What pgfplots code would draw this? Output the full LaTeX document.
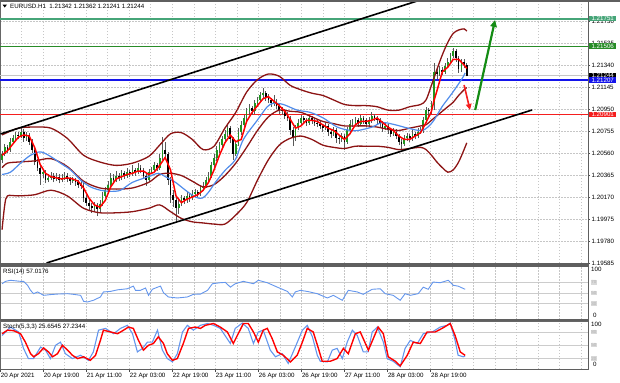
\documentclass[border=0pt]{standalone}
\usepackage{pgfplots}
\pgfplotsset{compat=1.18}
\usepackage{pgfplotstable}
\usepackage{fontspec}
\setmainfont{Liberation Sans}
\usetikzlibrary{arrows.meta}
\definecolor{upgreen}{RGB}{30,150,30}
\definecolor{bandred}{RGB}{140,20,20}
\definecolor{maBlue}{RGB}{80,140,235}
\definecolor{rsiBlue}{RGB}{100,150,237}
\definecolor{lvlTeal}{RGB}{70,165,120}
\definecolor{lvlGreen}{RGB}{40,140,40}
\definecolor{sepgray}{RGB}{95,95,95}
\definecolor{lvlBlue}{RGB}{20,20,235}
\definecolor{lvlRed}{RGB}{245,30,30}
\definecolor{arrGreen}{RGB}{20,140,20}
\newcommand{\sz}{\fontsize{6.2bp}{7bp}\selectfont}
\newcommand{\szs}{\fontsize{4.5bp}{5bp}\selectfont}

\pgfplotstableread{
i o h l c
0 1.2050 1.2058 1.2047 1.2055
1 1.2055 1.2064 1.2053 1.2061
2 1.2061 1.2063 1.2056 1.2059
3 1.2059 1.2069 1.2057 1.2066
4 1.2066 1.2072 1.2064 1.2069
5 1.2069 1.2075 1.2067 1.2072
6 1.2072 1.2075 1.2068 1.2071
7 1.2071 1.2079 1.2069 1.2075
8 1.2075 1.2077 1.2066 1.2069
9 1.2069 1.2075 1.2067 1.2072
10 1.2072 1.2074 1.2063 1.2066
11 1.2066 1.2068 1.2056 1.2059
12 1.2059 1.2061 1.2045 1.2048
13 1.2048 1.2051 1.2040 1.2043
14 1.2043 1.2046 1.2028 1.2037
15 1.2037 1.2042 1.2034 1.2039
16 1.2039 1.2041 1.2029 1.2032
17 1.2032 1.2037 1.2030 1.2034
18 1.2034 1.2039 1.2032 1.2036
19 1.2036 1.2038 1.2030 1.2033
20 1.2033 1.2038 1.2031 1.2035
21 1.2035 1.2037 1.2029 1.2032
22 1.2032 1.2037 1.2030 1.2034
23 1.2034 1.2039 1.2032 1.2036
24 1.2036 1.2038 1.2030 1.2033
25 1.2033 1.2035 1.2028 1.2031
26 1.2031 1.2035 1.2029 1.2032
27 1.2032 1.2034 1.2027 1.2030
28 1.2030 1.2032 1.2025 1.2028
29 1.2028 1.2031 1.2024 1.2027
30 1.2027 1.2029 1.2013 1.2016
31 1.2016 1.2019 1.2009 1.2012
32 1.2012 1.2015 1.2005 1.2009
33 1.2009 1.2012 1.2003 1.2007
34 1.2007 1.2013 1.2005 1.2010
35 1.2010 1.2012 1.2000 1.2006
36 1.2006 1.2014 1.2004 1.2011
37 1.2011 1.2021 1.2009 1.2018
38 1.2018 1.2026 1.2016 1.2023
39 1.2023 1.2031 1.2021 1.2028
40 1.2028 1.2038 1.2026 1.2034
41 1.2034 1.2037 1.2029 1.2032
42 1.2032 1.2040 1.2030 1.2036
43 1.2036 1.2038 1.2031 1.2034
44 1.2034 1.2041 1.2032 1.2038
45 1.2038 1.2040 1.2033 1.2036
46 1.2036 1.2043 1.2034 1.2039
47 1.2039 1.2041 1.2035 1.2038
48 1.2038 1.2045 1.2036 1.2041
49 1.2041 1.2043 1.2036 1.2039
50 1.2039 1.2047 1.2037 1.2043
51 1.2043 1.2045 1.2038 1.2041
52 1.2041 1.2043 1.2033 1.2036
53 1.2036 1.2038 1.2027 1.2032
54 1.2032 1.2042 1.2030 1.2039
55 1.2039 1.2044 1.2037 1.2041
56 1.2041 1.2048 1.2039 1.2045
57 1.2045 1.2047 1.2040 1.2043
58 1.2043 1.2055 1.2041 1.2052
59 1.2052 1.2070 1.2050 1.2059
60 1.2059 1.2066 1.2051 1.2055
61 1.2055 1.2057 1.2028 1.2032
62 1.2032 1.2035 1.2012 1.2019
63 1.2019 1.2023 1.2008 1.2014
64 1.2014 1.2017 1.1994 1.2007
65 1.2007 1.2014 1.2002 1.2011
66 1.2011 1.2019 1.2009 1.2016
67 1.2016 1.2018 1.2011 1.2014
68 1.2014 1.2021 1.2012 1.2018
69 1.2018 1.2020 1.2013 1.2016
70 1.2016 1.2023 1.2014 1.2020
71 1.2020 1.2024 1.2017 1.2021
72 1.2021 1.2023 1.2017 1.2020
73 1.2020 1.2028 1.2018 1.2025
74 1.2025 1.2030 1.2022 1.2027
75 1.2027 1.2035 1.2025 1.2032
76 1.2032 1.2039 1.2030 1.2036
77 1.2036 1.2048 1.2034 1.2045
78 1.2045 1.2055 1.2043 1.2052
79 1.2052 1.2062 1.2049 1.2059
80 1.2059 1.2066 1.2056 1.2063
81 1.2063 1.2071 1.2060 1.2068
82 1.2068 1.2076 1.2065 1.2073
83 1.2073 1.2082 1.2070 1.2078
84 1.2078 1.2080 1.2065 1.2068
85 1.2068 1.2070 1.2050 1.2055
86 1.2055 1.2067 1.2053 1.2064
87 1.2064 1.2078 1.2062 1.2075
88 1.2075 1.2084 1.2072 1.2081
89 1.2081 1.2090 1.2078 1.2087
90 1.2087 1.2096 1.2084 1.2093
91 1.2093 1.2099 1.2090 1.2096
92 1.2096 1.2098 1.2090 1.2093
93 1.2093 1.2103 1.2091 1.2100
94 1.2100 1.2106 1.2097 1.2103
95 1.2103 1.2110 1.2101 1.2107
96 1.2107 1.2114 1.2105 1.2109
97 1.2109 1.2111 1.2102 1.2105
98 1.2105 1.2108 1.2100 1.2103
99 1.2103 1.2105 1.2097 1.2100
100 1.2100 1.2107 1.2098 1.2101
101 1.2101 1.2104 1.2095 1.2098
102 1.2098 1.2100 1.2091 1.2094
103 1.2094 1.2097 1.2090 1.2093
104 1.2093 1.2095 1.2086 1.2089
105 1.2089 1.2092 1.2084 1.2087
106 1.2087 1.2089 1.2072 1.2076
107 1.2076 1.2079 1.2062 1.2069
108 1.2069 1.2081 1.2067 1.2078
109 1.2078 1.2086 1.2076 1.2083
110 1.2083 1.2090 1.2081 1.2087
111 1.2087 1.2089 1.2082 1.2085
112 1.2085 1.2087 1.2080 1.2083
113 1.2083 1.2090 1.2081 1.2087
114 1.2087 1.2089 1.2082 1.2085
115 1.2085 1.2087 1.2080 1.2083
116 1.2083 1.2086 1.2079 1.2082
117 1.2082 1.2084 1.2077 1.2080
118 1.2080 1.2082 1.2075 1.2078
119 1.2078 1.2083 1.2076 1.2080
120 1.2080 1.2082 1.2071 1.2075
121 1.2075 1.2077 1.2069 1.2073
122 1.2073 1.2079 1.2071 1.2076
123 1.2076 1.2078 1.2065 1.2069
124 1.2069 1.2072 1.2064 1.2068
125 1.2068 1.2074 1.2066 1.2071
126 1.2071 1.2073 1.2059 1.2066
127 1.2066 1.2079 1.2064 1.2076
128 1.2076 1.2085 1.2074 1.2082
129 1.2082 1.2086 1.2079 1.2083
130 1.2083 1.2088 1.2081 1.2085
131 1.2085 1.2087 1.2079 1.2082
132 1.2082 1.2090 1.2080 1.2087
133 1.2087 1.2089 1.2082 1.2085
134 1.2085 1.2087 1.2079 1.2082
135 1.2082 1.2088 1.2080 1.2085
136 1.2085 1.2092 1.2083 1.2089
137 1.2089 1.2091 1.2084 1.2087
138 1.2087 1.2089 1.2082 1.2085
139 1.2085 1.2087 1.2079 1.2082
140 1.2082 1.2084 1.2075 1.2078
141 1.2078 1.2083 1.2076 1.2080
142 1.2080 1.2082 1.2073 1.2076
143 1.2076 1.2078 1.2070 1.2073
144 1.2073 1.2078 1.2071 1.2075
145 1.2075 1.2077 1.2068 1.2071
146 1.2071 1.2073 1.2063 1.2066
147 1.2066 1.2068 1.2059 1.2064
148 1.2064 1.2072 1.2062 1.2069
149 1.2069 1.2074 1.2067 1.2071
150 1.2071 1.2073 1.2066 1.2069
151 1.2069 1.2076 1.2067 1.2073
152 1.2073 1.2075 1.2068 1.2071
153 1.2071 1.2078 1.2069 1.2075
154 1.2075 1.2079 1.2073 1.2076
155 1.2076 1.2088 1.2074 1.2085
156 1.2085 1.2097 1.2083 1.2094
157 1.2094 1.2096 1.2089 1.2093
158 1.2093 1.2102 1.2091 1.2099
159 1.2099 1.2136 1.2094 1.2128
160 1.2128 1.2131 1.2122 1.2126
161 1.2126 1.2133 1.2124 1.2130
162 1.2130 1.2132 1.2125 1.2128
163 1.2128 1.2136 1.2126 1.2133
164 1.2133 1.2140 1.2131 1.2137
165 1.2137 1.2145 1.2135 1.2142
166 1.2142 1.2149 1.2140 1.2146
167 1.2146 1.2148 1.2137 1.2140
168 1.2140 1.2142 1.2127 1.2130
169 1.2130 1.2139 1.2128 1.2137
170 1.2137 1.2139 1.2131 1.2134
171 1.2134 1.2136 1.2124 1.2124
}\candles
\pgfplotstablecreatecol[expr={\thisrow{h}-\thisrow{l}}]{hl}\candles
\pgfplotstablecreatecol[expr={max(\thisrow{c}-\thisrow{o},0)}]{vu}\candles
\pgfplotstablecreatecol[expr={min(\thisrow{c}-\thisrow{o},0)}]{vd}\candles

\pgfplotsset{
  mt/.style={
    scale only axis, width=588bp, xmin=-0.75, xmax=215.6,
    axis line style={black!60, line width=0.6bp},
    tick label style={font=\sz},
    xtick={-0.7,15.13,30.96,46.79,62.62,78.45,94.28,110.11,125.94,141.77,157.60},
    extra x ticks={7.22,23.05,38.88,54.71,70.54,86.37,102.20,118.03,133.86,149.69,165.52,173.43,181.35,189.26,197.18,205.09,213.01},
    extra x tick labels={},
    extra x tick style={major tick length=0pt, grid=major},
    xmajorgrids,
    x grid style={gray!45, dash pattern=on 1.5bp off 1.5bp, line width=0.5bp},
  }
}

\begin{document}
\begin{tikzpicture}[x=1bp,y=1bp,font=\sz]
\useasboundingbox (0bp,0bp) rectangle (620bp,-383bp);

% ---------------- main price panel
\begin{axis}[mt, at={(0bp,0bp)}, anchor=north west, height=263bp,
  ymin=1.19585, ymax=1.21916, clip=false,
  xticklabels={}, xtick style={draw=none},
  ytick={1.19585,1.19780,1.19975,1.20170,1.20365,1.20560,1.20755,1.20950,1.21145,1.21340,1.21535,1.21730},
  ymajorgrids, y grid style={gray!45, dash pattern=on 1.5bp off 1.5bp, line width=0.5bp},
  ytick pos=right, yticklabel pos=right, tick align=outside, major tick length=2bp,
  ytick style={black!70, line width=0.5bp},
  yticklabel style={/pgf/number format/fixed, /pgf/number format/fixed zerofill, /pgf/number format/precision=5, /pgf/number format/assume math mode=true, inner sep=1.5bp}]

% level lines
\addplot[lvlTeal, line width=1.8bp] coordinates {(-0.75,1.21751) (215.6,1.21751)};
\addplot[lvlGreen, line width=1.3bp] coordinates {(-0.75,1.21506) (215.6,1.21506)};
\addplot[gray!45, line width=0.9bp] coordinates {(-0.75,1.21244) (215.6,1.21244)};
\addplot[lvlBlue, line width=1.4bp] coordinates {(-0.75,1.21207) (215.6,1.21207)};
\addplot[lvlRed, line width=1.4bp] coordinates {(-0.75,1.20901) (215.6,1.20901)};

% candles: wicks and bodies
\addplot[black!65, line width=0.6bp, quiver={u=0, v=\thisrow{hl}}] table[x=i, y=l] {\candles};
\addplot[upgreen, line width=1.7bp, quiver={u=0, v=\thisrow{vu}}] table[x=i, y=o] {\candles};
\addplot[black, line width=1.7bp, quiver={u=0, v=\thisrow{vd}}] table[x=i, y=o] {\candles};

% Bollinger bands
\addplot[bandred, line width=1.3bp, smooth] coordinates {
(0,1.2072) (6,1.2078) (12,1.2079) (18,1.2078) (24,1.2069) (30,1.2054) (36,1.2048) (42,1.2045) (48,1.2047) (54,1.2053) (58,1.2063) (62,1.2073) (66,1.2074) (70,1.2068) (74,1.2059) (78,1.2062) (82,1.2078) (86,1.2092) (90,1.2110) (94,1.2121) (98,1.2126) (102,1.2124) (106,1.2116) (110,1.2112) (114,1.2109) (118,1.2107) (122,1.2103) (126,1.2099) (130,1.2098) (134,1.2098) (138,1.2097) (142,1.2094) (146,1.2094) (150,1.2097) (154,1.2099) (156,1.2103) (158,1.2116) (160,1.2130) (162,1.2143) (164,1.2154) (166,1.2162) (168,1.2165) (170,1.2166) (171,1.2164)};
\addplot[bandred, line width=1.3bp, smooth] coordinates {
(0,1.2043) (2,1.2047) (6,1.2048) (12,1.2049) (18,1.2051) (24,1.2044) (30,1.2031) (36,1.2025) (42,1.2024) (48,1.2025) (54,1.2030) (58,1.2037) (62,1.2038) (66,1.2036) (70,1.2031) (74,1.2026) (78,1.2028) (82,1.2036) (86,1.2047) (90,1.2061) (94,1.2076) (98,1.2088) (102,1.2094) (106,1.2093) (110,1.2092) (114,1.2088) (118,1.2084) (122,1.2082) (126,1.2080) (130,1.2080) (134,1.2080) (138,1.2079) (142,1.2077) (146,1.2076) (150,1.2078) (154,1.2080) (156,1.2081) (158,1.2085) (160,1.2089) (162,1.2093) (164,1.2097) (166,1.2101) (168,1.2107) (170,1.2112) (171,1.2114)};
\addplot[bandred, line width=1.3bp, smooth] coordinates {
(0,1.1988) (1,1.2010) (2,1.2018) (6,1.2018) (12,1.2019) (18,1.2023) (24,1.2018) (30,1.2007) (36,1.2003) (42,1.2003) (48,1.2004) (54,1.2007) (58,1.2010) (62,1.2004) (66,1.1998) (70,1.1995) (74,1.1994) (78,1.1993) (82,1.1993) (86,1.2001) (90,1.2012) (94,1.2032) (98,1.2050) (102,1.2063) (106,1.2069) (110,1.2071) (114,1.2068) (118,1.2063) (122,1.2061) (126,1.2060) (130,1.2062) (134,1.2062) (138,1.2062) (142,1.2061) (146,1.2059) (150,1.2060) (154,1.2061) (156,1.2059) (158,1.2054) (160,1.2048) (162,1.2043) (164,1.2039) (166,1.2041) (168,1.2048) (170,1.2059) (171,1.2065)};

% slow MA (blue)
\addplot[maBlue, line width=1.2bp, smooth] coordinates {
(0,1.2037) (3.1,1.2039) (6.8,1.2047) (10.5,1.2054) (14.2,1.2057) (17.8,1.2053) (21.5,1.2047) (25.2,1.2041) (28.9,1.2032) (32.5,1.2026) (36.2,1.2023) (39.9,1.2022) (43.6,1.2023) (48,1.2030) (53.9,1.2035) (57.5,1.2038) (60.1,1.2035) (63.8,1.2030) (67.5,1.2023) (71.1,1.2017) (73.7,1.2016) (75.9,1.2021) (78.5,1.2030) (82.2,1.2041) (85.8,1.2050) (88.8,1.2068) (93.9,1.2085) (97.6,1.2097) (99.8,1.2100) (103.5,1.2099) (108.6,1.2094) (113.4,1.2092) (118.2,1.2087) (123.3,1.2079) (128.1,1.2076) (131.1,1.2076) (136.2,1.2079) (139.9,1.2083) (144.7,1.2081) (149.4,1.2078) (154.6,1.2076) (158.3,1.2083) (161.9,1.2097) (165.6,1.2109) (169.3,1.2122) (170.4,1.2127)};

% fast MA (red)
\addplot[red, line width=1.5bp] coordinates {
(0,1.2054) (2,1.2058) (4,1.2064) (6,1.2070) (8,1.2072) (10,1.2071) (12,1.2061) (14,1.2046) (16,1.2038) (18,1.2035) (20,1.2034) (22,1.2033) (24,1.2034) (26,1.2033) (28,1.2031) (30,1.2025) (32,1.2016) (34,1.2010) (36,1.2008) (38,1.2014) (40,1.2026) (42,1.2033) (44,1.2035) (46,1.2037) (48,1.2038) (50,1.2040) (52,1.2040) (54,1.2037) (56,1.2039) (58,1.2045) (60,1.2052) (62,1.2041) (64,1.2018) (66,1.2012) (68,1.2015) (70,1.2017) (72,1.2019) (74,1.2023) (76,1.2030) (78,1.2041) (80,1.2054) (82,1.2065) (84,1.2072) (86,1.2066) (88,1.2068) (90,1.2084) (92,1.2092) (94,1.2098) (96,1.2104) (98,1.2106) (100,1.2102) (102,1.2098) (104,1.2093) (106,1.2086) (108,1.2078) (110,1.2080) (112,1.2085) (114,1.2085) (116,1.2084) (118,1.2081) (120,1.2078) (122,1.2076) (124,1.2072) (126,1.2068) (128,1.2073) (130,1.2081) (132,1.2084) (134,1.2084) (136,1.2085) (138,1.2087) (140,1.2083) (142,1.2079) (144,1.2076) (146,1.2071) (148,1.2068) (150,1.2068) (152,1.2071) (154,1.2074) (156,1.2083) (158,1.2093) (159,1.2103) (160,1.2111) (162,1.2128) (164,1.2132) (166,1.2139) (168,1.2139) (170,1.2134) (171,1.2131)};

% trend lines
\addplot[black, line width=1.6bp] coordinates {(-0.55,1.20729) (153.9,1.21916)};
\addplot[black, line width=1.6bp] coordinates {(16.36,1.19585) (195.0,1.20941)};

% arrows
\addplot[lvlRed, line width=1.6bp, -{Triangle[length=6bp,width=5.5bp]}] coordinates {(170.0,1.21163) (172.2,1.20941)};
\addplot[arrGreen, line width=2.2bp, -{Triangle[length=7bp,width=6.5bp]}] coordinates {(174.1,1.20941) (181.4,1.21739)};

\coordinate (b1) at (axis cs:215.6,1.21751);
\coordinate (b2) at (axis cs:215.6,1.21506);
\coordinate (b3) at (axis cs:215.6,1.21244);
\coordinate (b4) at (axis cs:215.6,1.21207);
\coordinate (b5) at (axis cs:215.6,1.20901);
\end{axis}

% ---------------- RSI panel
\begin{axis}[mt, at={(0bp,-266.5bp)}, anchor=north west, height=53bp,
  ymin=0, ymax=100, clip=false,
  xticklabels={}, xtick style={draw=none},
  ytick={30,50,70}, yticklabels={}, ytick style={draw=none},
  ymajorgrids, y grid style={gray!40, line width=0.5bp}]
\addplot[rsiBlue, line width=0.9bp] coordinates {
(0,67.5) (1.3,72) (3.1,74) (6.8,72) (7.9,72) (9.4,64.5) (10.5,55) (11.6,48.7) (13.1,52) (15.3,45.6) (17.8,47) (20.4,48) (24.1,48.7) (26.3,47.5) (28.9,45.6) (30,34.3) (31.4,33) (33.6,36.2) (36.2,42.5) (37.3,52) (39.9,53) (42.5,56) (46.1,58) (48.3,63) (49.1,55) (50.9,55) (52.8,59.4) (53.9,45.6) (55.3,57) (57.2,61) (58.3,63) (59.4,50.6) (61.2,42.5) (64.5,40.6) (68.2,42.5) (70.4,47.5) (73,48) (75.6,55) (77.4,67.5) (80.3,69.4) (82.2,70) (84,61) (85.8,67.5) (88.8,72) (92.5,67.5) (94.3,74) (97.6,69.4) (101.3,61) (105,53) (106.8,42.5) (107.9,52) (109.7,55) (112.3,53) (116,48.7) (119.7,40.6) (121.9,45.6) (125.2,36.2) (127.4,55) (130.7,52) (132.9,47.5) (136.2,57) (139.2,58) (141,48.7) (143.9,45.6) (146.5,36.2) (148.3,48.7) (150.2,45.6) (153.1,48.7) (155,61) (156.8,57) (158.6,70.7) (161.2,69.4) (164.2,74) (166,64.5) (167.8,63) (170.4,57)};
\node[anchor=north west, inner sep=0, font=\sz] at ([xshift=3bp,yshift=-2.5bp]rel axis cs:0,1) {RSI(14) 57.0176};
\node[anchor=west, inner sep=0, font=\sz] at ([xshift=3bp,yshift=-3bp]rel axis cs:1,1) {100};
\node[anchor=west, inner sep=0, font=\sz] at ([xshift=5bp,yshift=4.5bp]rel axis cs:1,0) {0};
\node[anchor=west, fill=gray!30, text=gray!60, inner sep=0.6bp, font=\szs] at (axis cs:216.5,70) {70};
\node[anchor=west, fill=gray!30, text=gray!60, inner sep=0.6bp, font=\szs] at (axis cs:216.5,50) {50};
\node[anchor=west, fill=gray!30, text=gray!60, inner sep=0.6bp, font=\szs] at (axis cs:216.5,30) {30};
\end{axis}

% ---------------- Stochastic panel
\begin{axis}[mt, at={(0bp,-321.3bp)}, anchor=north west, height=47.7bp,
  ymin=-3.5, ymax=104, clip=false,
  xticklabels={20 Apr 2021,20 Apr 19:00,21 Apr 11:00,22 Apr 03:00,22 Apr 19:00,23 Apr 11:00,26 Apr 03:00,26 Apr 19:00,27 Apr 11:00,28 Apr 03:00,28 Apr 19:00},
  xtick pos=left, tick align=outside, major tick length=3bp,
  xtick style={black!70, line width=0.5bp},
  xticklabel style={anchor=north west, inner sep=0.5bp, yshift=-0.5bp},
  ytick={20,50,80}, yticklabels={}, ytick style={draw=none},
  ymajorgrids, y grid style={gray!40, line width=0.5bp}]
\addplot[rsiBlue, line width=1.1bp] coordinates {
(0,72) (3.1,91) (6.1,80) (7.9,43) (9.7,20) (11.6,20) (14.2,46) (16.0,39) (17.8,20) (19.7,50) (21.5,57) (23.3,31) (25.9,20) (28.9,27.5) (31.8,16) (33.6,35) (35.5,84) (38.1,88) (41.0,76) (43.6,88) (46.1,95) (48.0,76) (49.8,35) (51.7,43) (53.5,57) (55.3,57) (57.2,84) (59.0,39) (60.8,20) (62.7,12.5) (64.5,31) (66.4,80) (68.2,95) (70.4,84) (73.0,95) (75.6,99) (77.8,95) (80.3,88) (84.0,54) (85.8,88) (88.4,100) (90.6,88) (92.5,54) (94.3,80) (96.1,84) (98.7,39) (100.6,24) (103.1,31) (105.3,9) (107.9,46) (110.5,84) (112.3,95) (114.2,69) (116.0,27.5) (117.1,14) (119.7,12.5) (121.5,39) (123.3,43) (125.2,20) (127.0,57) (128.9,84) (130.7,72) (132.9,35) (134.7,35) (136.2,80) (138.1,91) (140.3,57) (141.7,20) (143.9,14) (146.5,1.5) (148.3,43) (150.2,61) (152.8,54) (155.0,76) (158.3,80) (161.2,91) (163.8,95) (164.9,100) (166.7,61) (167.8,27.5) (169.7,24) (170.4,25.6)};
\addplot[red, line width=1.4bp] coordinates {
(0,76) (2.0,84) (4.2,83) (6.8,76) (8.6,57) (10.5,31) (11.6,24) (13.4,31) (15.3,44) (17.1,35) (18.6,24) (20.4,31) (22.2,50) (24.1,39) (25.9,27.5) (27.8,20) (30.0,24) (32.5,16) (34.4,27.5) (36.2,61) (37.3,84) (39.9,80) (42.5,76) (44.7,84) (46.5,91) (48.3,88) (50.2,61) (52.0,39) (53.9,50) (55.7,54) (57.5,69) (59.4,54) (60.8,31) (62.7,16) (64.5,20) (66.7,54) (68.6,88) (71.1,91) (73.0,88) (74.8,95) (77.8,99) (80.3,91) (82.9,80) (85.1,54) (86.9,76) (88.8,99) (90.6,99) (92.5,80) (94.3,57) (96.1,84) (97.6,88) (99.4,65) (101.3,35) (103.5,27.5) (106.1,12.5) (108.6,27.5) (110.5,57) (112.3,88) (114.5,80) (116.4,43) (117.8,14) (120.8,14) (123.3,20) (125.6,43) (127.4,31) (130.0,76) (131.8,80) (134.8,39) (136.6,65) (138.4,91) (140.3,76) (142.1,24) (144.7,14) (146.5,3.5) (149.1,27.5) (151.3,57) (153.9,54) (156.4,80) (159.4,80) (161.9,88) (164.9,99) (166.7,72) (168.6,35) (170.4,27.2)};
\node[anchor=north west, inner sep=0, font=\sz] at ([xshift=3bp,yshift=-2.5bp]rel axis cs:0,1) {Stoch(5,3,3) 25.6545 27.2344};
\node[anchor=west, inner sep=0, font=\sz] at ([xshift=3bp,yshift=-3.5bp]rel axis cs:1,1) {100};
\node[anchor=west, inner sep=0, font=\sz] at ([xshift=5bp,yshift=5bp]rel axis cs:1,0) {0};
\node[anchor=west, fill=gray!30, text=gray!60, inner sep=0.6bp, font=\szs] at (axis cs:216.5,80) {80};
\node[anchor=west, fill=gray!30, text=gray!60, inner sep=0.6bp, font=\szs] at (axis cs:216.5,50) {50};
\node[anchor=west, fill=gray!30, text=gray!60, inner sep=0.6bp, font=\szs] at (axis cs:216.5,20) {20};
\end{axis}

% ---------------- frame decorations
\fill[sepgray] (0bp,0bp) rectangle (620bp,-1.6bp);
\fill[sepgray] (0bp,-263bp) rectangle (588bp,-266.5bp);
\fill[sepgray] (0bp,-318.7bp) rectangle (588bp,-321.3bp);
\draw[sepgray, line width=0.8bp] (588bp,0bp) -- (588bp,-369bp);
\draw[sepgray, line width=0.8bp] (0bp,-369bp) -- (588bp,-369bp);

% price boxes on the right scale
\node[anchor=west, fill=lvlTeal, text=white, inner xsep=2.5bp, inner ysep=0.6bp, font=\sz] at ([xshift=0.8bp]b1) {1.21751};
\node[anchor=west, fill=lvlGreen, text=white, inner xsep=2.5bp, inner ysep=0.6bp, font=\sz] at ([xshift=0.8bp]b2) {1.21506};
\node[anchor=west, fill=black, text=white, inner xsep=2.5bp, inner ysep=0.6bp, font=\sz] at ([xshift=0.8bp]b3) {1.21244};
\node[anchor=west, fill=lvlBlue, text=white, inner xsep=2.5bp, inner ysep=0.6bp, font=\sz] at ([xshift=0.8bp]b4) {1.21207};
\node[anchor=west, fill=lvlRed, text=white, inner xsep=2.5bp, inner ysep=0.6bp, font=\sz] at ([xshift=0.8bp]b5) {1.20901};

% title
\fill[black] (2.5bp,-4.5bp) -- (7bp,-4.5bp) -- (4.75bp,-7.5bp) -- cycle;
\node[anchor=west, inner sep=0, font=\sz] at (10bp,-6.2bp) {EURUSD.H1\ \ 1.21342 1.21362 1.21241 1.21244};
\end{tikzpicture}
\end{document}
